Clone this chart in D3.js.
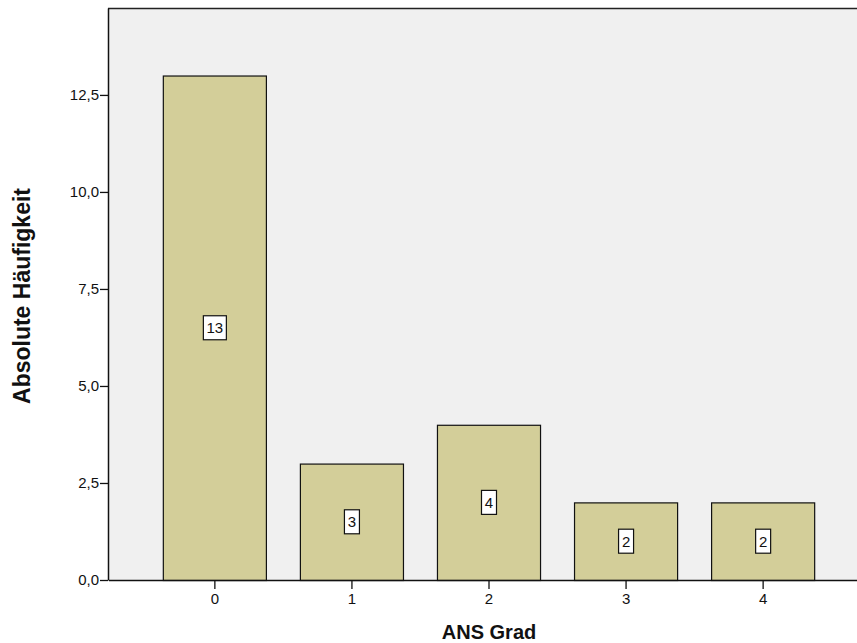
<!DOCTYPE html>
<html>
<head>
<meta charset="utf-8">
<script src="https://cdn.jsdelivr.net/npm/d3@7"></script>
<style>
  html, body { margin: 0; padding: 0; background: #fff; }
  svg { display: block; font-family: Arial, "Liberation Sans", sans-serif; }
</style>
</head>
<body>
<svg id="chart" width="857" height="643"></svg>
<script>
// ANS grade frequency
const categories = ["0", "1", "2", "3", "4"];
const counts = [13, 3, 4, 2, 2];
const yTicks = [0, 2.5, 5, 7.5, 10, 12.5];

const svg = d3.select("#chart");
const plotLeft = 108, plotTop = 8, plotBottom = 580, plotRight = 869;

const x = d3.scaleBand()
  .domain(categories)
  .range([plotLeft, plotRight])
  .paddingInner(0.248)
  .paddingOuter(0.40);

const y = d3.scaleLinear()
  .domain([0, 14.74])
  .range([plotBottom, plotTop]);

const fmt = v => d3.format(".1f")(v).replace(".", ",");
const data = categories.map((c, i) => ({ c, v: counts[i] }));

// plot background
svg.append("rect")
  .attr("x", plotLeft).attr("y", plotTop)
  .attr("width", plotRight - plotLeft).attr("height", plotBottom - plotTop)
  .attr("fill", "#f0f0f0");

// top border
svg.append("line")
  .attr("x1", plotLeft).attr("x2", plotRight)
  .attr("y1", plotTop + 0.5).attr("y2", plotTop + 0.5)
  .attr("stroke", "#222").attr("stroke-width", 1.5);

// bars
svg.append("g").selectAll("rect")
  .data(data)
  .join("rect")
  .attr("x", d => x(d.c) + 0.5)
  .attr("y", d => y(d.v) + 0.5)
  .attr("width", x.bandwidth())
  .attr("height", d => y(0) - y(d.v))
  .attr("fill", "#d3ce99")
  .attr("stroke", "#111")
  .attr("stroke-width", 1.2);

// value labels
const lab = svg.append("g").selectAll("g")
  .data(data)
  .join("g")
  .attr("transform", d => `translate(${x(d.c) + x.bandwidth() / 2 + 0.5},${y(d.v / 2)})`);
lab.append("rect")
  .attr("x", d => -(String(d.v).length * 8 + 7) / 2)
  .attr("y", -12)
  .attr("width", d => String(d.v).length * 8 + 7)
  .attr("height", 24)
  .attr("fill", "#fff")
  .attr("stroke", "#111")
  .attr("stroke-width", 1.2);
lab.append("text")
  .attr("text-anchor", "middle")
  .attr("dy", "0.36em")
  .attr("font-size", 15)
  .attr("fill", "#111")
  .text(d => d.v);

// y axis
const yAxis = svg.append("g")
  .attr("transform", `translate(${plotLeft},0)`)
  .call(d3.axisLeft(y).tickValues(yTicks).tickFormat(fmt).tickSize(8).tickPadding(1).tickSizeOuter(0));
yAxis.attr("font-size", 15).attr("font-family", "Arial, 'Liberation Sans', sans-serif");
yAxis.select(".domain").attr("stroke", "#111").attr("stroke-width", 1.5);
yAxis.selectAll(".tick line").attr("stroke", "#111").attr("stroke-width", 1.3);
yAxis.selectAll(".tick text").attr("fill", "#111");

// x axis
const xAxis = svg.append("g")
  .attr("transform", `translate(0.5,${plotBottom})`)
  .call(d3.axisBottom(x).tickSize(9).tickSizeOuter(0));
xAxis.attr("font-size", 15).attr("font-family", "Arial, 'Liberation Sans', sans-serif");
xAxis.select(".domain").attr("stroke", "#111").attr("stroke-width", 1.5);
xAxis.selectAll(".tick line").attr("stroke", "#111").attr("stroke-width", 1.3);
xAxis.selectAll(".tick text").attr("fill", "#111").attr("y", 13);

// axis titles
svg.append("text")
  .attr("transform", `translate(30,${(plotTop + plotBottom) / 2 + 2}) rotate(-90)`)
  .attr("text-anchor", "middle")
  .attr("font-size", 23)
  .attr("font-weight", "bold")
  .attr("fill", "#111")
  .text("Absolute Häufigkeit");

svg.append("text")
  .attr("x", 489)
  .attr("y", 639)
  .attr("text-anchor", "middle")
  .attr("font-size", 20)
  .attr("font-weight", "bold")
  .attr("fill", "#111")
  .text("ANS Grad");
</script>
</body>
</html>
